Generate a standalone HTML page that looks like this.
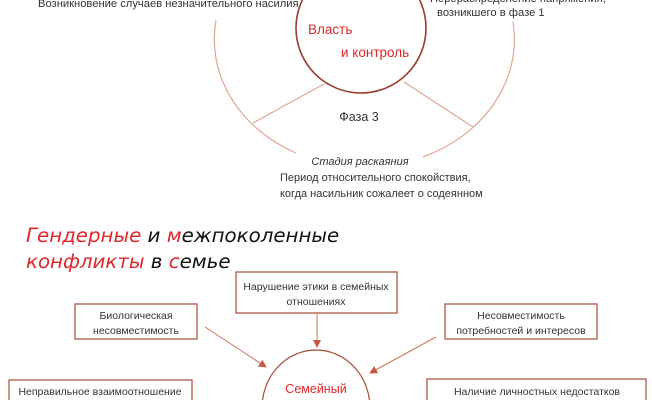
<!DOCTYPE html>
<html><head><meta charset="utf-8"><style>
html,body{margin:0;padding:0;background:#fff;width:652px;height:400px;overflow:hidden}
svg{display:block}
text{font-family:"Liberation Sans",sans-serif;fill:#333}
</style></head><body>
<svg width="652" height="400" viewBox="0 0 652 400" xmlns="http://www.w3.org/2000/svg">
<defs><marker id="a" markerWidth="8" markerHeight="8" refX="7" refY="4" orient="auto" markerUnits="userSpaceOnUse"><path d="M0,0 L8,4 L0,8 z" fill="#c8553d"/></marker></defs>
<path d="M216,20 A151,128 0 0 0 296,153" fill="none" stroke="#e3a595" stroke-width="1.2"/>
<path d="M423,157 A151,128 0 0 0 513,22" fill="none" stroke="#e3a595" stroke-width="1.2"/>
<line x1="324" y1="84" x2="253" y2="123" stroke="#e3a595" stroke-width="1.2"/>
<line x1="404" y1="82" x2="473" y2="127" stroke="#e3a595" stroke-width="1.2"/>
<circle cx="361" cy="28" r="65" fill="#fff" stroke="#9b3b2a" stroke-width="1.6"/>
<text x="308" y="34" font-size="13.5" style="fill:#e0262b">Власть</text>
<text x="341" y="57" font-size="13.5" style="fill:#e0262b">и контроль</text>
<text x="38" y="7" font-size="11.2">Возникновение случаев незначительного насилия</text>
<text x="437" y="16" font-size="11.2">возникшего в фазе 1</text>
<text x="430" y="2" font-size="11.2">Перераспределение напряжения,</text>
<text x="359" y="121" font-size="12.5" text-anchor="middle">Фаза 3</text>
<text x="360" y="165" font-size="11" text-anchor="middle" font-style="italic">Стадия раскаяния</text>
<text x="280" y="181" font-size="11">Период относительного спокойствия,</text>
<text x="280" y="197" font-size="11">когда насильник сожалеет о содеянном</text>
<text x="26" y="242" font-size="19.8" style="fill:#111;font-family:'DejaVu Sans',sans-serif;font-style:italic"><tspan style="fill:#e0262b">Гендерные</tspan> и <tspan style="fill:#e0262b">м</tspan>ежпоколенные</text>
<text x="26" y="268" font-size="19.8" style="fill:#111;font-family:'DejaVu Sans',sans-serif;font-style:italic"><tspan style="fill:#e0262b">конфликты</tspan> в <tspan style="fill:#e0262b">с</tspan>емье</text>
<g fill="#fff" stroke="#a8493a" stroke-width="1.2">
<rect x="236" y="272" width="161" height="41"/>
<rect x="75" y="304" width="122" height="35"/>
<rect x="445" y="304" width="152" height="35"/>
<rect x="9" y="380" width="183" height="30"/>
<rect x="427" y="379" width="219" height="30"/>
<ellipse cx="316" cy="408" rx="54" ry="58"/>
</g>
<g stroke="#d0705a" stroke-width="1" marker-end="url(#a)">
<line x1="205" y1="327" x2="266" y2="367"/>
<line x1="317" y1="313" x2="317" y2="347"/>
<line x1="436" y1="337" x2="370" y2="373"/>
</g>
<g font-size="10.5" text-anchor="middle">
<text x="316" y="290">Нарушение этики в семейных</text>
<text x="316" y="305">отношениях</text>
<text x="136" y="319">Биологическая</text>
<text x="136" y="334">несовместимость</text>
<text x="521" y="319">Несовместимость</text>
<text x="521" y="334">потребностей и интересов</text>
<text x="100" y="395">Неправильное взаимоотношение</text>
<text x="537" y="395">Наличие личностных недостатков</text>
<text x="316" y="393" font-size="12.5" style="fill:#e0262b">Семейный</text>
</g>
</svg>
</body></html>
